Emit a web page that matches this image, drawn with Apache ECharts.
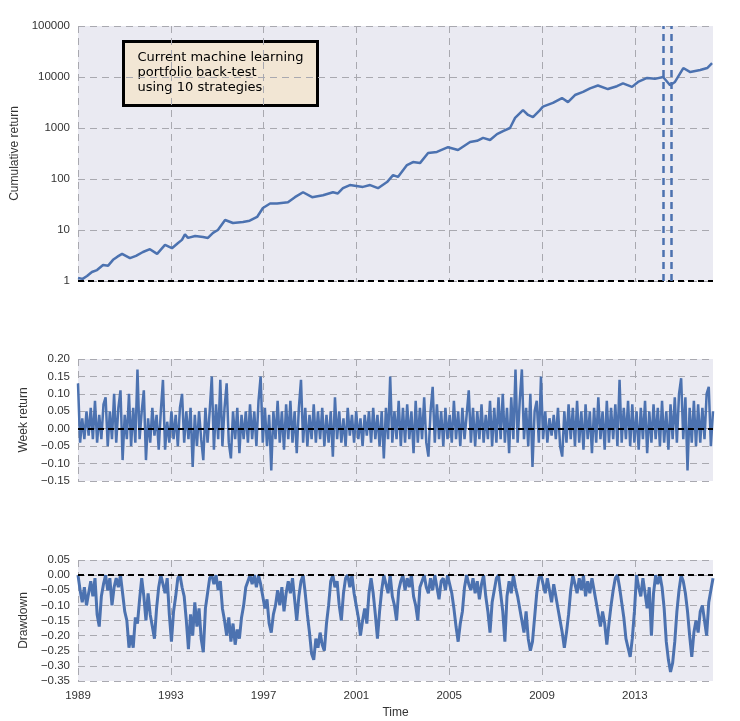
<!DOCTYPE html>
<html><head><meta charset="utf-8">
<script src="https://cdn.jsdelivr.net/npm/echarts@6/dist/echarts.min.js"></script>
<style>html,body{margin:0;padding:0;background:#fff}#c{width:740px;height:721px}</style>
</head><body><div id="c"></div>
<script>
// ---- data ----
const cumYears = [1989.00,1989.20,1989.39,1989.60,1989.82,1990.08,1990.30,1990.51,1990.70,1990.90,1991.24,1991.50,1991.80,1992.10,1992.41,1992.75,1993.05,1993.30,1993.48,1993.61,1993.74,1994.05,1994.39,1994.60,1994.82,1995.03,1995.34,1995.68,1996.11,1996.40,1996.72,1996.97,1997.28,1997.58,1998.05,1998.35,1998.70,1999.09,1999.56,1999.99,2000.20,2000.42,2000.72,2001.28,2001.59,2001.93,2002.32,2002.58,2002.79,2003.18,2003.44,2003.74,2004.09,2004.47,2004.95,2005.38,2005.90,2006.20,2006.46,2006.76,2007.06,2007.32,2007.62,2007.84,2008.18,2008.40,2008.61,2008.91,2009.04,2009.47,2009.86,2010.12,2010.42,2010.77,2011.07,2011.41,2011.84,2012.23,2012.49,2012.88,2013.14,2013.53,2013.87,2014.22,2014.52,2014.73,2015.09,2015.39,2015.82,2016.12,2016.33];
const cumValues = [1.15,1.1,1.25,1.5,1.64,2.06,2.0,2.6,3.0,3.4,2.8,3.1,3.7,4.2,3.4,5.1,4.4,5.5,6.4,8.2,7.0,7.6,7.3,7.0,8.8,10,15.7,13.7,14.3,15.2,18,27,33,33,35,44,55,44,48,55,52,66,76,70,76,66,87,119,110,188,215,205,323,340,420,370,530,560,640,580,760,870,1000,1580,2240,1800,1630,2240,2620,3100,3870,3220,4430,5100,6000,6800,5800,6600,7500,6400,8000,9600,9200,10000,6900,8000,15000,12500,13700,15000,18700];
const weekReturns = [
0.13,-0.04,0.03,-0.03,0.05,-0.02,0.06,-0.03,0.08,-0.04,0.04,-0.03,0.07,0.09,-0.05,0.05,-0.03,0.10,-0.04,0.06,
0.11,-0.09,0.04,-0.03,0.10,-0.05,0.06,-0.04,0.17,-0.03,0.05,0.11,-0.09,0.03,-0.04,0.06,-0.02,0.04,-0.06,0.05,
0.14,-0.06,0.02,-0.04,0.05,-0.03,0.04,-0.05,0.06,0.10,-0.04,0.05,-0.03,0.06,-0.11,0.04,-0.05,0.05,-0.03,-0.09,
0.06,-0.04,0.05,0.15,-0.06,0.07,-0.03,0.14,-0.05,0.06,0.13,-0.04,-0.085,0.05,-0.03,0.06,-0.07,0.04,-0.03,0.05,
-0.04,0.07,-0.03,0.05,-0.05,0.08,0.15,-0.04,0.06,-0.05,0.04,-0.12,0.05,-0.03,0.08,-0.04,0.05,-0.06,0.07,-0.03,
0.08,-0.04,0.05,-0.07,0.06,0.14,-0.04,0.06,-0.05,0.04,-0.03,0.07,-0.04,0.05,-0.03,0.06,-0.05,0.04,-0.04,0.05,
-0.08,0.09,-0.03,0.05,-0.04,0.03,-0.05,0.06,-0.02,0.04,-0.04,0.05,-0.03,0.03,-0.05,0.04,-0.02,0.05,-0.04,0.06,
-0.03,0.04,-0.05,0.05,-0.085,0.06,-0.03,0.15,-0.04,0.05,-0.03,0.08,-0.05,0.06,-0.04,0.07,-0.03,0.05,-0.07,0.08,
-0.04,0.06,-0.03,0.09,-0.04,-0.08,0.05,0.12,-0.04,0.07,-0.03,0.05,-0.05,0.06,-0.03,0.04,-0.04,0.08,-0.03,0.05,
-0.05,0.06,-0.03,0.04,0.11,-0.04,0.06,-0.05,0.05,-0.03,0.07,-0.04,0.04,-0.03,0.08,-0.05,0.06,-0.04,0.09,-0.03,
0.10,-0.04,0.06,-0.07,0.09,-0.03,0.17,-0.04,0.08,0.17,-0.03,0.06,-0.05,0.10,-0.11,0.05,0.08,-0.04,0.15,-0.03,
0.05,-0.04,0.03,-0.02,0.04,-0.03,0.06,-0.05,-0.08,0.05,-0.04,0.07,-0.03,0.06,-0.05,0.08,-0.04,0.05,-0.06,0.07,
-0.03,0.05,-0.07,0.06,-0.04,0.09,-0.03,0.05,-0.06,0.08,-0.04,0.06,-0.03,0.07,-0.05,0.14,-0.04,0.06,-0.03,0.08,
-0.05,0.07,-0.04,0.05,-0.06,0.06,-0.03,0.08,-0.07,0.05,-0.04,0.07,-0.03,0.06,-0.05,0.08,-0.04,0.05,-0.06,0.07,
-0.03,0.09,-0.04,0.10,0.145,-0.03,0.09,-0.12,0.06,-0.04,0.08,-0.05,0.07,-0.04,0.06,-0.03,0.10,0.12,-0.05,0.05];
const drawdowns = [
0,-0.05,-0.09,-0.04,-0.10,-0.06,-0.02,-0.07,-0.01,-0.13,-0.17,-0.07,-0.03,0,-0.05,-0.01,-0.10,-0.04,-0.01,-0.04,
0,-0.06,-0.12,-0.15,-0.24,-0.20,-0.24,-0.14,-0.16,-0.08,-0.01,-0.07,-0.15,-0.06,-0.13,-0.17,-0.21,-0.11,-0.04,0,
-0.03,-0.06,-0.01,-0.13,-0.22,-0.12,-0.07,-0.01,0,-0.04,-0.07,-0.15,-0.245,-0.13,-0.20,-0.09,-0.17,-0.11,-0.21,-0.255,
-0.11,-0.06,-0.01,0,-0.03,0,-0.05,-0.02,-0.11,-0.15,-0.20,-0.14,-0.22,-0.16,-0.23,-0.18,-0.21,-0.14,-0.10,-0.04,
-0.02,0,-0.03,0,-0.04,0,-0.03,-0.07,-0.11,-0.08,-0.16,-0.19,-0.13,-0.10,-0.05,-0.10,-0.04,-0.12,-0.06,-0.02,
-0.06,-0.01,-0.08,-0.15,-0.07,-0.02,0,-0.06,-0.13,-0.19,-0.26,-0.28,-0.21,-0.24,-0.19,-0.23,-0.25,-0.16,-0.10,-0.02,
0,-0.04,-0.02,-0.10,-0.15,-0.06,-0.01,0,-0.04,0,-0.06,-0.10,-0.14,-0.20,-0.15,-0.11,-0.16,-0.06,-0.01,-0.06,
-0.13,-0.21,-0.12,-0.05,0,-0.03,-0.06,0,-0.07,-0.10,-0.15,-0.05,-0.02,0,-0.05,-0.01,-0.04,0,-0.07,-0.10,
-0.15,-0.04,-0.02,0,-0.04,-0.06,-0.01,-0.05,0,-0.04,-0.08,-0.02,-0.01,-0.05,0,-0.03,-0.06,-0.11,-0.17,-0.22,
-0.16,-0.12,-0.04,0,-0.03,-0.05,-0.01,-0.06,-0.02,-0.08,-0.03,0,-0.07,-0.12,-0.19,-0.09,-0.05,-0.01,0,-0.06,
-0.12,-0.22,-0.07,-0.02,-0.06,0,-0.04,-0.07,-0.11,-0.15,-0.19,-0.12,-0.21,-0.25,-0.22,-0.14,-0.06,-0.01,0,-0.03,
-0.06,-0.01,-0.05,-0.09,-0.03,-0.07,-0.11,-0.15,-0.19,-0.24,-0.19,-0.13,-0.05,0,-0.03,-0.06,-0.01,-0.05,0,-0.07,
-0.02,-0.06,-0.01,-0.05,-0.09,-0.13,-0.17,-0.12,-0.16,-0.23,-0.16,-0.10,-0.05,-0.01,0,-0.04,-0.09,-0.14,-0.21,-0.24,
-0.27,-0.21,-0.12,0,-0.04,-0.07,-0.01,-0.06,-0.11,-0.04,-0.20,-0.06,0,-0.03,0,-0.04,-0.11,-0.22,-0.28,-0.32,
-0.29,-0.22,-0.12,-0.05,0,-0.02,-0.06,-0.12,-0.20,-0.27,-0.19,-0.15,-0.19,-0.12,-0.10,-0.15,-0.20,-0.09,-0.05,-0.01];
const seriesStart = 1989, seriesEnd = 2016.37;
const highlightYears = [2014.22, 2014.57];
const boxLines = ['Current machine learning', 'portfolio back-test', 'using 10 strategies'];

// ---- build ----
const step = (seriesEnd - seriesStart) / (weekReturns.length - 1);
const weekData = weekReturns.map((v, i) => [seriesStart + i * step, v]);
const ddData = drawdowns.map((v, i) => [seriesStart + i * step, v]);
const cumData = cumYears.map((y, i) => [y, cumValues[i]]);

const BLUE = '#4c72b0';
const gridCommon = {left: 78, right: 27, show: true, backgroundColor: '#eaeaf2', borderWidth: 0};
const splitDash = {show: true, lineStyle: {color: '#a9a9b0', width: 1, type: [7, 5]}};
const lblFont = {color: '#333', fontSize: 11.5, fontFamily: 'Liberation Sans, Arial, sans-serif'};
const nameFont = {color: '#333', fontSize: 12, fontFamily: 'Liberation Sans, Arial, sans-serif'};

function xAxis(idx, showLabels) {
  return {
    type: 'value', gridIndex: idx, min: seriesStart, max: seriesEnd, interval: 4,
    axisLine: {show: false}, axisTick: {show: false},
    splitLine: Object.assign({showMaxLine: false}, splitDash),
    axisLabel: Object.assign({show: showLabels, margin: 9, showMaxLabel: false,
      formatter: v => { const r = Math.round(v); return (Math.abs(v - r) < 1e-6 && (r - 1989) % 4 === 0) ? String(r) : ''; }}, lblFont),
    name: showLabels ? 'Time' : '', nameLocation: 'middle', nameGap: 26, nameTextStyle: nameFont
  };
}
const fmt2 = v => (Math.abs(v) < 1e-9 ? 0 : v).toFixed(2).replace('-', '\u2212');
const zeroLine = {symbol: 'none', silent: true, label: {show: false},
  lineStyle: {color: '#000', width: 2, type: [6, 4]}};

const option = {
  animation: false,
  backgroundColor: '#fff',
  grid: [
    Object.assign({top: 26, height: 255}, gridCommon),
    Object.assign({top: 359, height: 122}, gridCommon),
    Object.assign({top: 560, height: 121}, gridCommon)
  ],
  xAxis: [xAxis(0, false), xAxis(1, false), xAxis(2, true)],
  yAxis: [
    {type: 'log', logBase: 10, gridIndex: 0, min: 1, max: 100000,
     axisLine: {show: false}, axisTick: {show: false}, splitLine: splitDash,
     axisLabel: Object.assign({margin: 8, formatter: v => String(Math.round(v))}, lblFont),
     name: 'Cumulative return', nameLocation: 'middle', nameGap: 50, nameTextStyle: nameFont},
    {type: 'value', gridIndex: 1, min: -0.15, max: 0.20, interval: 0.05,
     axisLine: {show: false}, axisTick: {show: false}, splitLine: splitDash,
     axisLabel: Object.assign({margin: 8, formatter: fmt2}, lblFont),
     name: 'Week return', nameLocation: 'middle', nameGap: 41, nameTextStyle: nameFont},
    {type: 'value', gridIndex: 2, min: -0.35, max: 0.05, interval: 0.05,
     axisLine: {show: false}, axisTick: {show: false}, splitLine: splitDash,
     axisLabel: Object.assign({margin: 8, formatter: fmt2}, lblFont),
     name: 'Drawdown', nameLocation: 'middle', nameGap: 41, nameTextStyle: nameFont}
  ],
  series: [
    {type: 'line', xAxisIndex: 0, yAxisIndex: 0, data: cumData, showSymbol: false,
     lineStyle: {color: BLUE, width: 2.5}, itemStyle: {color: BLUE},
     markLine: Object.assign({}, zeroLine, {data: [
       {yAxis: 1},
       {xAxis: highlightYears[0], lineStyle: {color: BLUE, width: 2.5, type: [7, 5]}},
       {xAxis: highlightYears[1], lineStyle: {color: BLUE, width: 2.5, type: [7, 5]}}
     ]})},
    {type: 'line', xAxisIndex: 1, yAxisIndex: 1, data: weekData, showSymbol: false,
     lineStyle: {color: BLUE, width: 2.5}, itemStyle: {color: BLUE},
     markLine: Object.assign({}, zeroLine, {data: [{yAxis: 0}]})},
    {type: 'line', xAxisIndex: 2, yAxisIndex: 2, data: ddData, showSymbol: false,
     lineStyle: {color: BLUE, width: 3}, itemStyle: {color: BLUE},
     markLine: Object.assign({}, zeroLine, {data: [{yAxis: 0}]})}
  ],
  graphic: [{
    type: 'group', left: 122, top: 40,
    children: [
      {type: 'rect', shape: {x: 0, y: 0, width: 194, height: 64},
       style: {fill: '#f2e6d4', stroke: '#000', lineWidth: 3}},
      {type: 'text', x: 14, y: 9,
       style: {text: boxLines.join('\n'), fill: '#000', fontSize: 13, lineHeight: 15,
               fontFamily: 'DejaVu Sans, sans-serif'}}
    ]
  }]
};
const chart = echarts.init(document.getElementById('c'), null, {renderer: 'canvas'});
chart.setOption(option);
</script></body></html>
